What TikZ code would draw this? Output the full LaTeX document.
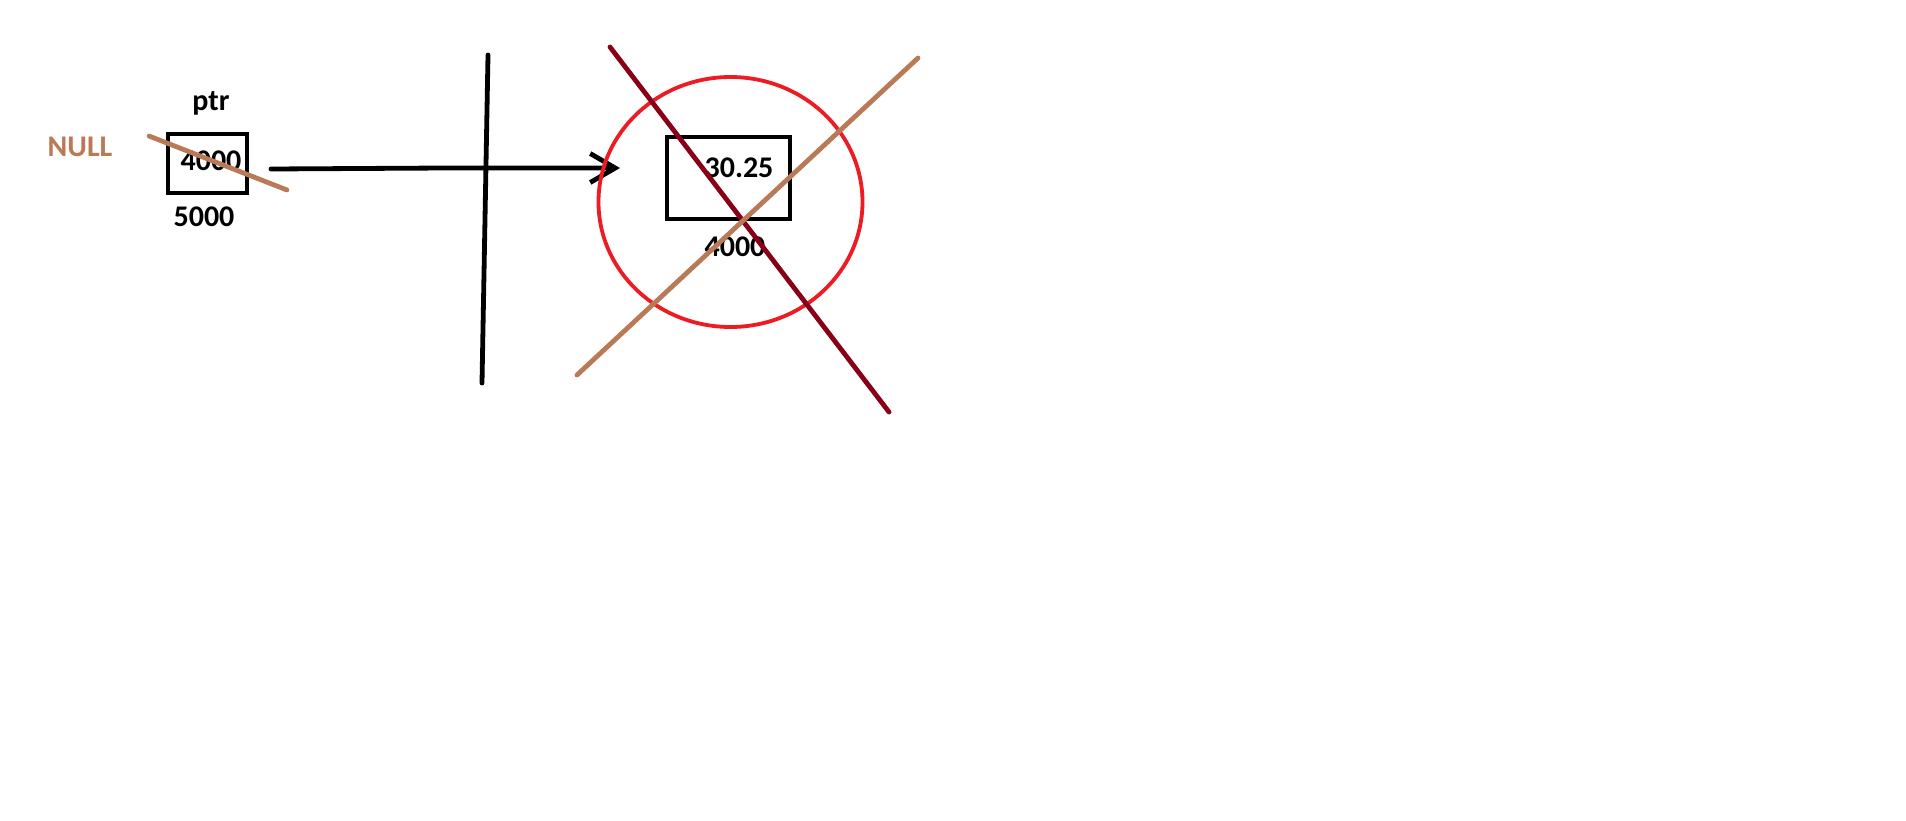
\documentclass[tikz,border=0pt]{standalone}
\usepackage{fontspec}
\setmainfont{Carlito}
\usetikzlibrary{arrows.meta}
\definecolor{tanc}{RGB}{185,122,87}
\definecolor{darkredc}{RGB}{136,0,21}
\definecolor{redc}{RGB}{237,28,36}
\begin{document}
\begin{tikzpicture}[x=0.5pt,y=-0.5pt,
  lbl/.style={inner sep=0pt,font=\fontsize{15pt}{18pt}\selectfont\bfseries},
  cell/.style={draw=black,line width=2pt,inner sep=0pt},
  pen/.style={line width=2.4pt,line cap=round}]
\useasboundingbox[fill=white] (0,0) rectangle (1906,820);
% left cell
\node[cell,minimum width=79*0.5pt,minimum height=59*0.5pt] (box1) at (207.5,163.5) {};
\node[lbl] (v1) at (211,161) {4000};
\node[lbl] (ptr) at (211,103) {ptr};
\node[lbl] (a1) at (204,217) {5000};
\node[lbl,text=tanc] (null) at (80,147) {NULL};
\draw[pen,tanc] (149,136) -- (287,190);
% arrow
\coordinate (s0) at (271,169);
\coordinate (s1) at (444,168);
\coordinate (tip) at (620,168);
\draw[pen,-{Straight Barb[length=12.5pt,width=14.5pt,line width=2.4pt]}] (s0) -- (s1) -- (tip);
% vertical bar
\coordinate (vt) at (488,55);
\coordinate (vb) at (482,383);
\draw[pen,black] (vt) -- (vb);
% freed cell
\draw[redc,line width=1.9pt] (730.5,202) ellipse [x radius=132, y radius=125];
\node[cell,minimum width=123*0.5pt,minimum height=82*0.5pt] (box2) at (728.5,178) {};
\node[lbl] (v2) at (739,168) {30.25};
\node[lbl] (a2) at (735,247) {4000};
\coordinate (d0) at (610,47);
\coordinate (d1) at (889,412);
\coordinate (t0) at (918,58);
\coordinate (t1) at (577,375);
\draw[pen,darkredc] (d0) -- (d1);
\draw[pen,tanc] (t0) -- (t1);
\end{tikzpicture}
\end{document}
